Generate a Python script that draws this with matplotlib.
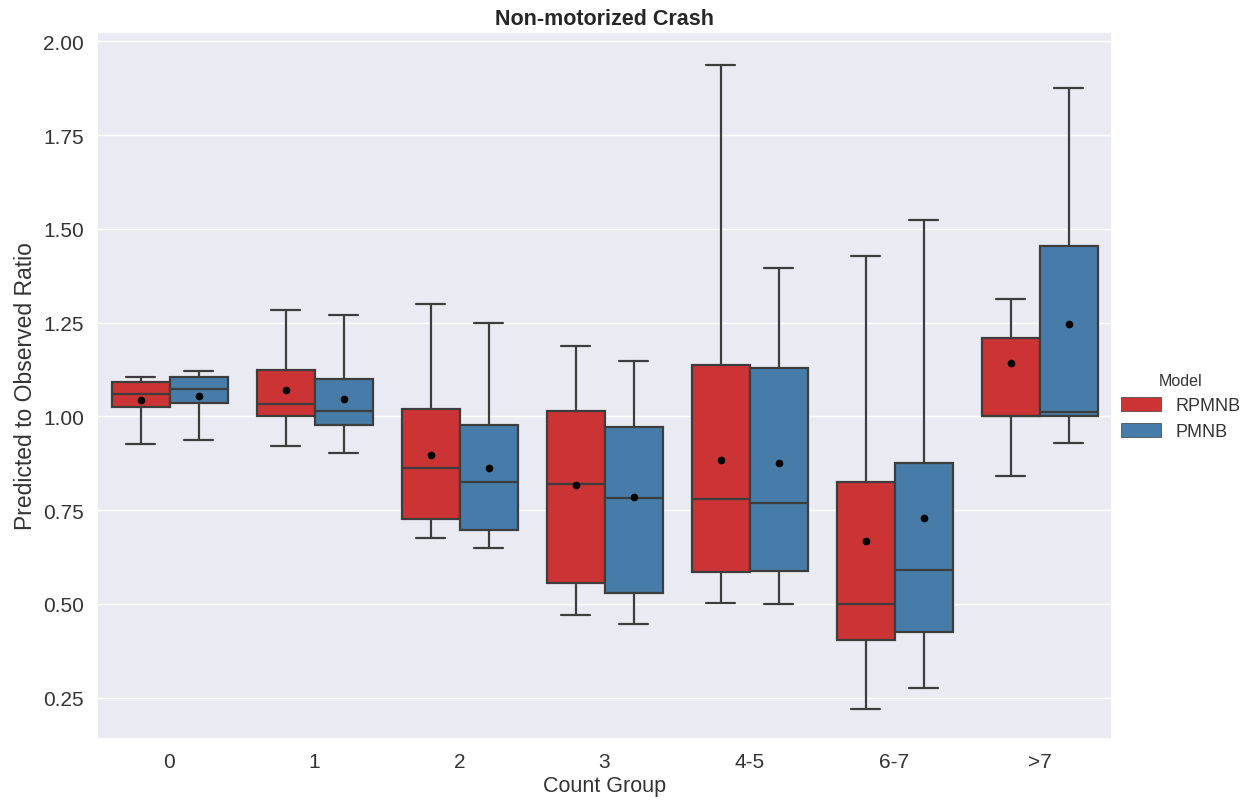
import matplotlib
matplotlib.use("Agg")
import matplotlib.pyplot as plt
import matplotlib.patches as mpatches
import seaborn as sns

groups = ["0", "1", "2", "3", "4-5", "6-7", ">7"]
models = ["RPMNB", "PMNB"]

# per group: [whislo, q1, median, q3, whishi], mean
rpmnb_low = [0.926, 0.921, 0.676, 0.470, 0.503, 0.220, 0.841]
rpmnb_q1 = [1.024, 1.002, 0.727, 0.557, 0.584, 0.405, 1.000]
rpmnb_med = [1.059, 1.034, 0.862, 0.819, 0.781, 0.500, 1.000]
rpmnb_q3 = [1.093, 1.124, 1.019, 1.014, 1.137, 0.824, 1.208]
rpmnb_high = [1.106, 1.284, 1.299, 1.189, 1.937, 1.427, 1.314]
rpmnb_mean = [1.045, 1.071, 0.898, 0.817, 0.883, 0.669, 1.142]

pmnb_low = [0.936, 0.902, 0.649, 0.446, 0.500, 0.275, 0.929]
pmnb_q1 = [1.036, 0.978, 0.696, 0.530, 0.587, 0.426, 1.000]
pmnb_med = [1.074, 1.015, 0.825, 0.782, 0.770, 0.590, 1.012]
pmnb_q3 = [1.106, 1.100, 0.977, 0.972, 1.128, 0.875, 1.455]
pmnb_high = [1.120, 1.271, 1.248, 1.147, 1.397, 1.524, 1.876]
pmnb_mean = [1.055, 1.047, 0.862, 0.785, 0.876, 0.729, 1.246]

sns.set_theme(style="darkgrid")
plt.rcParams["font.family"] = ["Liberation Sans", "DejaVu Sans"]

fig = plt.figure(figsize=(12.47, 8.04), dpi=100)
ax = fig.add_axes([97/1247, 1-740/804, (1112-97)/1247, (740-33)/804])

pal = sns.color_palette("Set1")
colors = [sns.desaturate(pal[0], 0.75), sns.desaturate(pal[1], 0.75)]
line_col = "#3d3d3d"
text_col = "#333333"

series = [
    (rpmnb_low, rpmnb_q1, rpmnb_med, rpmnb_q3, rpmnb_high, rpmnb_mean),
    (pmnb_low, pmnb_q1, pmnb_med, pmnb_q3, pmnb_high, pmnb_mean),
]
offsets = [-0.2, 0.2]
for k, (lo, q1, med, q3, hi, mn) in enumerate(series):
    stats = []
    for i in range(len(groups)):
        stats.append(dict(whislo=lo[i], q1=q1[i], med=med[i], q3=q3[i],
                          whishi=hi[i], mean=mn[i], fliers=[]))
    pos = [i + offsets[k] for i in range(len(groups))]
    ax.bxp(stats, positions=pos, widths=0.4, patch_artist=True,
           showmeans=True, showfliers=False,
           boxprops=dict(facecolor=colors[k], edgecolor=line_col, linewidth=1.6),
           medianprops=dict(color=line_col, linewidth=1.6),
           whiskerprops=dict(color=line_col, linewidth=1.6),
           capprops=dict(color=line_col, linewidth=1.6),
           meanprops=dict(marker="o", markerfacecolor="black",
                          markeredgecolor="black", markersize=4.5),
           manage_ticks=False)

ax.set_xlim(-0.5, len(groups) - 0.5)
ax.set_ylim(0.14, 2.025)
ax.set_xticks(range(len(groups)))
ax.set_xticklabels(groups)
yt = [0.25, 0.5, 0.75, 1.0, 1.25, 1.5, 1.75, 2.0]
ax.set_yticks(yt)
ax.set_yticklabels([f"{v:.2f}" for v in yt])
ax.tick_params(axis="both", labelsize=15, colors=text_col)
ax.grid(axis="x", visible=False)
ax.set_xlabel("Count Group", fontsize=15.5, color=text_col, labelpad=3)
ax.set_ylabel("Predicted to Observed Ratio", fontsize=16.5, color=text_col)
ax.set_title("Non-motorized Crash", fontsize=15.5, fontweight="bold", color="#262626")

handles = [mpatches.Patch(facecolor=colors[k], edgecolor=line_col, linewidth=0.5, label=models[k])
           for k in range(2)]
leg = ax.legend(handles=handles, title="Model", loc="center left",
                bbox_to_anchor=(1.0, 0.47), frameon=False, fontsize=13,
                title_fontsize=11.5, handlelength=2.2, handleheight=0.8,
                borderaxespad=0.1)
for t in leg.get_texts():
    t.set_color(text_col)
leg.get_title().set_color(text_col)

fig.savefig("out.png", dpi=100)
